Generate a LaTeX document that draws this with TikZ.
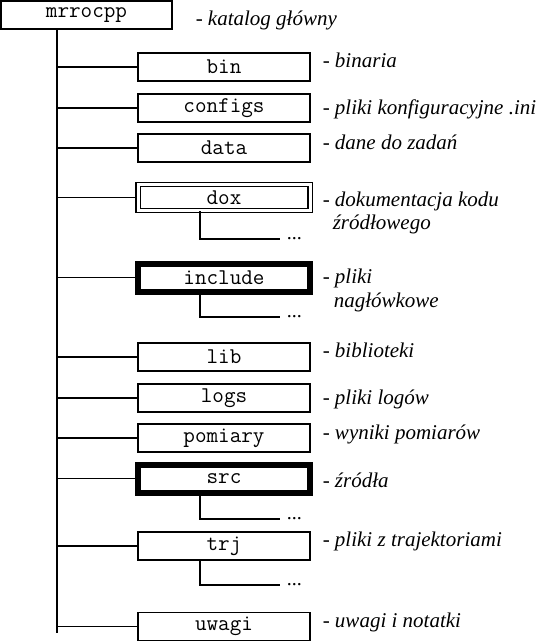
\documentclass[tikz,border=0pt]{standalone}
\usepackage{fontspec}
\setmainfont{Liberation Serif}
\usetikzlibrary{positioning}

\begin{document}
\begin{tikzpicture}[x=1pt, y=-1pt, line width=1.5pt,
        dir/.style={draw, minimum width=172pt, minimum height=28pt, inner sep=0pt, font=\fontsize{22.5}{26}\selectfont\ttfamily},
        dirthick/.style={dir, line width=6pt},
        dirdouble/.style={dir, line width=1.3pt, double, double distance=3pt, minimum height=26pt},
        desc/.style={anchor=base west, inner sep=0pt, font=\fontsize{21}{25}\selectfont\itshape},
        more/.style={anchor=base west, inner xsep=6pt, inner ysep=0pt, font=\fontsize{20}{24}\selectfont}]
        \useasboundingbox (0,0) rectangle (552,642);
        % katalogi
        \node[dir, minimum width=171pt] (root) at (86.5,15) {mrrocpp};
        \node[dir] (bin) at (224,67) {bin};
        \node[dir] (configs) at (224,108) {configs};
        \node[dir] (data) at (224,148) {data};
        \node[dirdouble] (dox) at (224,197.5) {dox};
        \node[dirthick] (include) at (224,277.5) {include};
        \node[dir] (lib) at (224,357) {lib};
        \node[dir] (logs) at (224,398) {logs};
        \node[dir] (pomiary) at (224,438) {pomiary};
        \node[dirthick] (src) at (224,478.5) {src};
        \node[dir] (trj) at (224,546) {trj};
        \node[dir] (uwagi) at (224,626.5) {uwagi};
        \node[more] (doxmore) at (280,239) {...};
        \node[more] (includemore) at (280,317) {...};
        \node[more] (srcmore) at (280,519) {...};
        \node[more] (trjmore) at (280,585) {...};
        % drzewo
        \coordinate (trunkx) at (57,0);
        \coordinate (subx) at (200,0);
        \coordinate (trunkend) at (57,633);
        \draw (root.south -| trunkx) -- (trunkend);
        \foreach \d in {bin, configs, data, dox, include, lib, logs, pomiary, src, trj, uwagi}
            \draw (\d.west -| trunkx) -- (\d.west);
        \foreach \d in {dox, include, src, trj}
            \draw (\d.south -| subx) |- (\d more.base west);
        % opisy
        \node[desc] (rootdesc) at (195,26) {- katalog główny};
        \node[desc] (bindesc) at (322,67) {- binaria};
        \node[desc] (configsdesc) at (322,114) {- pliki konfiguracyjne .ini};
        \node[desc] (datadesc) at (322,149) {- dane do zadań};
        \node[desc] (doxdesc) at (322,206) {- dokumentacja kodu};
        \node[desc] (doxdesctwo) at (332,229) {źródłowego};
        \node[desc] (includedesc) at (322,283) {- pliki};
        \node[desc] (includedesctwo) at (333,307) {nagłówkowe};
        \node[desc] (libdesc) at (322,357) {- biblioteki};
        \node[desc] (logsdesc) at (322,404) {- pliki logów};
        \node[desc] (pomiarydesc) at (322,439) {- wyniki pomiarów};
        \node[desc] (srcdesc) at (322,487) {- źródła};
        \node[desc] (trjdesc) at (322,546) {- pliki z trajektoriami};
        \node[desc] (uwagidesc) at (322,627) {- uwagi i notatki};
    \end{tikzpicture}
\end{document}
